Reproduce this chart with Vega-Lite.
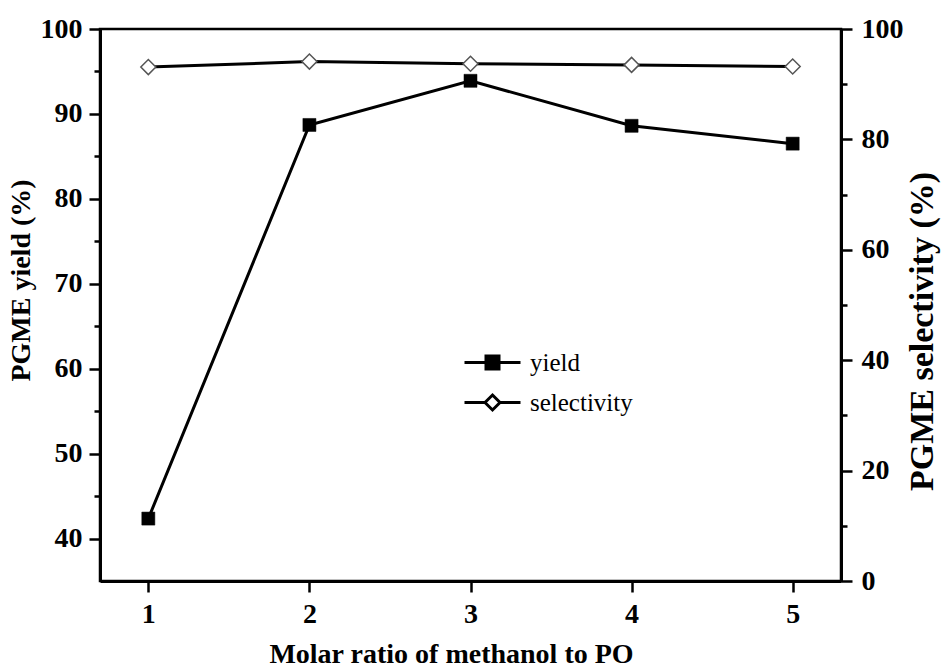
{
  "$schema": "https://vega.github.io/schema/vega-lite/v6.json",
  "width": 741,
  "height": 552,
  "autosize": {"type": "none"},
  "padding": {"left": 100, "top": 29, "right": 100, "bottom": 87},
  "background": "white",
  "config": {
    "font": "Liberation Serif",
    "view": {"stroke": "black", "strokeWidth": 2.5},
    "axis": {
      "grid": false,
      "domainColor": "black",
      "domainWidth": 3,
      "tickColor": "black",
      "tickWidth": 2.5,
      "tickSize": 11,
      "labelFont": "Liberation Serif",
      "labelFontSize": 28,
      "labelFontWeight": "bold",
      "labelColor": "black",
      "labelOverlap": false,
      "labelFlush": false,
      "titleFont": "Liberation Serif",
      "titleFontSize": 28,
      "titleFontWeight": "bold",
      "titleColor": "black"
    },
    "legend": {
      "title": null,
      "orient": "none",
      "legendX": 380,
      "legendY": 321,
      "padding": 0,
      "symbolSize": 400,
      "labelOffset": 25,
      "labelFont": "Liberation Serif",
      "labelFontSize": 25,
      "labelColor": "black",
      "rowPadding": 13
    }
  },
  "data": {
    "values": [
      {"ratio": 1, "series": "yield", "value": 42.35},
      {"ratio": 2, "series": "yield", "value": 88.7},
      {"ratio": 3, "series": "yield", "value": 93.9},
      {"ratio": 4, "series": "yield", "value": 88.6},
      {"ratio": 5, "series": "yield", "value": 86.5},
      {"ratio": 1, "series": "selectivity", "value": 93.1},
      {"ratio": 2, "series": "selectivity", "value": 94.1},
      {"ratio": 3, "series": "selectivity", "value": 93.7},
      {"ratio": 4, "series": "selectivity", "value": 93.5},
      {"ratio": 5, "series": "selectivity", "value": 93.2}
    ]
  },
  "encoding": {
    "x": {
      "field": "ratio",
      "type": "quantitative",
      "scale": {"domain": [0.7, 5.3], "nice": false, "zero": false},
      "axis": {
        "title": "Molar ratio of methanol to PO",
        "values": [1, 1.5, 2, 2.5, 3, 3.5, 4, 4.5, 5],
        "format": "d",
        "labelExpr": "datum.value % 1 === 0 ? datum.label : ''",
        "tickDash": {"condition": {"test": "datum.value % 1 !== 0", "value": [6, 30]}, "value": [20, 0]},
        "labelPadding": 8,
        "titleX": 351,
        "titleY": 81,
        "titleBaseline": "alphabetic"
      }
    }
  },
  "layer": [
    {
      "transform": [{"filter": "datum.series === 'yield'"}],
      "encoding": {
        "y": {
          "field": "value",
          "type": "quantitative",
          "scale": {"domain": [35, 100], "nice": false, "zero": false},
          "axis": {
            "title": "PGME yield (%)",
            "orient": "left",
            "values": [40, 45, 50, 55, 60, 65, 70, 75, 80, 85, 90, 95, 100],
            "labelExpr": "datum.value % 10 === 0 ? datum.label : ''",
            "tickDash": {"condition": {"test": "datum.value % 10 !== 0", "value": [6, 30]}, "value": [20, 0]},
            "labelPadding": 7,
            "titleX": -65,
            "titleY": 251,
            "titleAngle": 270,
            "titleBaseline": "bottom",
            "titleAlign": "center"
          }
        }
      },
      "layer": [
        {
          "mark": {"type": "line", "strokeWidth": 3},
          "encoding": {
            "stroke": {
              "field": "series",
              "type": "nominal",
              "scale": {"domain": ["yield", "selectivity"], "range": ["black", "black"]},
              "legend": {
                "encode": {
                  "symbols": {
                    "update": {
                      "shape": [{"test": "datum.value === 'yield'", "value": "M-2.8,0H2.8M-0.65,-0.65H0.65V0.65H-0.65Z"}, {"value": "M-2.8,0H-0.75M0.75,0H2.8M0,-0.75L0.75,0L0,0.75L-0.75,0Z"}],
                      "fill": [{"test": "datum.value === 'yield'", "value": "black"}, {"value": "white"}],
                      "stroke": {"value": "black"},
                      "strokeWidth": {"value": 3}
                    }
                  }
                }
              }
            }
          }
        },
        {"mark": {"type": "point", "shape": "square", "size": 170, "filled": true, "opacity": 1, "fill": "black", "stroke": "black", "strokeWidth": 0.5}}
      ]
    },
    {
      "transform": [{"filter": "datum.series === 'selectivity'"}],
      "encoding": {
        "y": {
          "field": "value",
          "type": "quantitative",
          "scale": {"domain": [0, 100], "nice": false},
          "axis": {
            "title": "PGME selectivity (%)",
            "orient": "right",
            "values": [0, 10, 20, 30, 40, 50, 60, 70, 80, 90, 100],
            "labelExpr": "datum.value % 20 === 0 ? datum.label : ''",
            "tickDash": {"condition": {"test": "datum.value % 20 !== 0", "value": [6, 30]}, "value": [20, 0]},
            "labelPadding": 9,
            "titleFontSize": 34,
            "titleX": 98,
            "titleY": 302,
            "titleAngle": 270,
            "titleBaseline": "bottom",
            "titleAlign": "center"
          }
        }
      },
      "layer": [
        {"mark": {"type": "line", "color": "black", "strokeWidth": 3}},
        {"mark": {"type": "point", "shape": "diamond", "size": 225, "filled": true, "opacity": 1, "fill": "white", "stroke": "#555555", "strokeWidth": 1.5}}
      ]
    }
  ],
  "resolve": {"scale": {"y": "independent"}}
}
